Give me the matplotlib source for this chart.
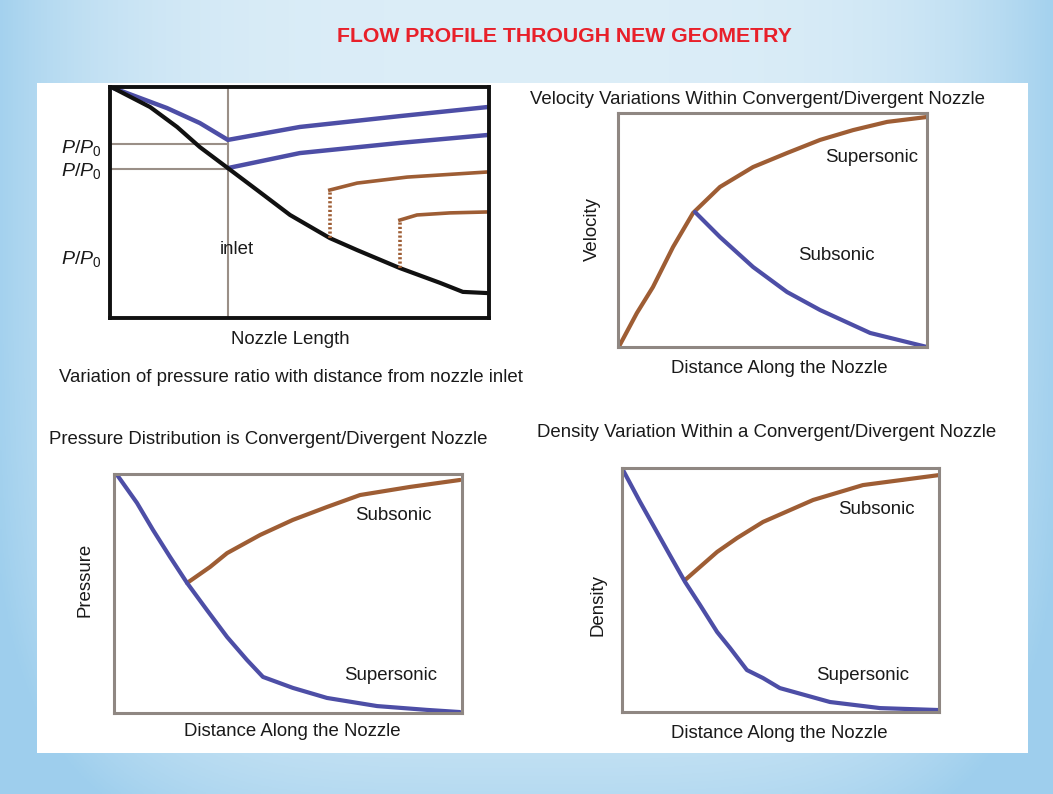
"""Flow profile through new geometry: four nozzle sketches on one slide."""
import matplotlib

matplotlib.use("Agg")
import matplotlib.pyplot as plt
import numpy as np
from matplotlib.patches import Rectangle

W, H = 1053, 794

# ---- data (axis units 0..1 inside each frame) ----
# top-left: pressure ratio vs nozzle length
tl_black_x = [0.008, 0.106, 0.177, 0.237, 0.311, 0.388, 0.475, 0.580, 0.652, 0.765, 0.871, 0.931, 0.995]
tl_black_y = [0.996, 0.913, 0.827, 0.740, 0.649, 0.554, 0.446, 0.346, 0.294, 0.216, 0.152, 0.113, 0.108]
tl_blue1_x = [0.008, 0.150, 0.237, 0.311, 0.501, 0.765, 0.995]
tl_blue1_y = [0.996, 0.909, 0.844, 0.771, 0.827, 0.874, 0.913]
tl_blue2_x = [0.311, 0.501, 0.765, 0.995]
tl_blue2_y = [0.649, 0.714, 0.758, 0.792]
tl_shock1_x = [0.580, 0.580]
tl_shock1_y = [0.346, 0.554]
tl_brown1_x = [0.580, 0.652, 0.784, 0.995]
tl_brown1_y = [0.554, 0.584, 0.610, 0.632]
tl_shock2_x = [0.765, 0.765]
tl_shock2_y = [0.216, 0.424]
tl_brown2_x = [0.765, 0.810, 0.897, 0.995]
tl_brown2_y = [0.424, 0.446, 0.455, 0.459]
tl_ref_levels = [0.753, 0.645]
tl_inlet_x = 0.311

# top-right: velocity
tr_brown_x = [0.006, 0.061, 0.113, 0.178, 0.243, 0.330, 0.437, 0.547, 0.654, 0.761, 0.871, 1.0]
tr_brown_y = [0.009, 0.145, 0.256, 0.427, 0.573, 0.684, 0.769, 0.829, 0.885, 0.927, 0.962, 0.983]
tr_blue_x = [0.249, 0.330, 0.437, 0.547, 0.654, 0.816, 1.0]
tr_blue_y = [0.577, 0.470, 0.342, 0.235, 0.158, 0.060, 0.0]

# bottom-left: pressure
bl_blue_x = [0.009, 0.066, 0.112, 0.161, 0.210, 0.267, 0.325, 0.382, 0.428, 0.514, 0.612, 0.756, 0.899, 0.994]
bl_blue_y = [0.996, 0.879, 0.766, 0.653, 0.544, 0.431, 0.318, 0.222, 0.151, 0.105, 0.063, 0.029, 0.013, 0.004]
bl_brown_x = [0.210, 0.276, 0.325, 0.420, 0.514, 0.612, 0.707, 0.851, 0.994]
bl_brown_y = [0.544, 0.611, 0.669, 0.745, 0.808, 0.862, 0.912, 0.946, 0.975]

# bottom-right: density
br_blue_x = [0.003, 0.057, 0.098, 0.151, 0.199, 0.246, 0.300, 0.341, 0.394, 0.445, 0.498, 0.656, 0.814, 1.0]
br_blue_y = [0.992, 0.861, 0.766, 0.643, 0.533, 0.439, 0.328, 0.262, 0.172, 0.139, 0.098, 0.041, 0.016, 0.008]
br_brown_x = [0.199, 0.300, 0.363, 0.445, 0.603, 0.688, 0.760, 1.0]
br_brown_y = [0.541, 0.656, 0.713, 0.779, 0.869, 0.902, 0.930, 0.971]

BLUE = "#4d4ea6"
BROWN = "#9e5d34"
FRAME = "#8f8782"
TXT = "#1a1a1a"
FONT = "Liberation Sans"
FS = 13.4

plt.rcParams["font.family"] = [FONT, "DejaVu Sans"]
plt.rcParams["mathtext.fontset"] = "custom"
plt.rcParams["mathtext.rm"] = FONT
plt.rcParams["mathtext.it"] = FONT + ":italic"


def fx(x):
    return x / W


def fy(y):
    return 1 - y / H


def panel(fig, x0, y0, x1, y1, color, lw):
    ax = fig.add_axes([fx(x0), fy(y1), (x1 - x0) / W, (y1 - y0) / H])
    ax.set_xlim(0, 1)
    ax.set_ylim(0, 1)
    ax.set_xticks([])
    ax.set_yticks([])
    ax.set_facecolor("white")
    for s in ax.spines.values():
        s.set_color(color)
        s.set_linewidth(lw)
    return ax


def label(fig, x, y, s, size=FS, **kw):
    # small downward nudge: va=center includes descenders
    fig.text(fx(x), fy(y + 2), s, ha="center", va="center", fontsize=size, color=TXT, **kw)


fig = plt.figure(figsize=(W / 100, H / 100), dpi=100)

# slide background: pale blue with darker edges
bg = fig.add_axes([0, 0, 1, 1])
gx = np.linspace(-1, 1, 400)
gy = np.linspace(0, 1, 300)
X, Y = np.meshgrid(gx, gy)
t = np.clip(np.abs(X) ** 4 * 0.9 + Y ** 6 * 0.6, 0, 1)
c0 = np.array([0.86, 0.93, 0.97])
c1 = np.array([0.62, 0.81, 0.93])
img = c0[None, None, :] * (1 - t[..., None]) + c1[None, None, :] * t[..., None]
bg.imshow(img, extent=[0, 1, 0, 1], aspect="auto", origin="upper")
bg.add_patch(Rectangle((fx(37), fy(753)), (1028 - 37) / W, (753 - 83) / H,
                       facecolor="white", edgecolor="none", transform=bg.transAxes))
bg.set_xlim(0, 1)
bg.set_ylim(0, 1)
bg.axis("off")

fig.text(fx(564), fy(36), "FLOW PROFILE THROUGH NEW GEOMETRY", ha="center", va="center",
         fontsize=15.3, fontweight="bold", color="#e8202a")

# ---- top-left ----
ax = panel(fig, 110, 87, 489, 318, "#111111", 2.8)
for lv in tl_ref_levels:
    ax.plot([0, tl_inlet_x], [lv, lv], color="#9a8f87", lw=1.5)
ax.plot([tl_inlet_x, tl_inlet_x], [0, 1], color="#9a8f87", lw=1.5)
ax.plot(tl_blue1_x, tl_blue1_y, color=BLUE, lw=3.2, solid_capstyle="round", solid_joinstyle="round")
ax.plot(tl_blue2_x, tl_blue2_y, color=BLUE, lw=3.2, solid_capstyle="round", solid_joinstyle="round")
ax.plot(tl_black_x, tl_black_y, color="#111111", lw=3.0, solid_capstyle="round", solid_joinstyle="round")
ax.plot(tl_shock1_x, tl_shock1_y, color=BROWN, lw=2.6, ls=(0, (0.6, 0.6)))
ax.plot(tl_shock2_x, tl_shock2_y, color=BROWN, lw=2.6, ls=(0, (0.6, 0.6)))
ax.plot(tl_brown1_x, tl_brown1_y, color=BROWN, lw=2.6, solid_joinstyle="round")
ax.plot(tl_brown2_x, tl_brown2_y, color=BROWN, lw=2.6, solid_joinstyle="round")
label(fig, 237, 247, "inlet")
for yy in (147, 170, 258):
    fig.text(fx(101), fy(yy + 1), r"$P/P_0$", ha="right", va="center", fontsize=14, color=TXT)
label(fig, 290, 338, "Nozzle Length")
label(fig, 291, 376, "Variation of pressure ratio with distance from nozzle inlet")

# ---- top-right ----
ax = panel(fig, 618, 113, 927, 347, FRAME, 2.2)
ax.plot(tr_brown_x, tr_brown_y, color=BROWN, lw=3.0, solid_capstyle="round", solid_joinstyle="round")
ax.plot(tr_blue_x, tr_blue_y, color=BLUE, lw=3.0, solid_capstyle="round", solid_joinstyle="round")
label(fig, 757, 98, "Velocity Variations Within Convergent/Divergent Nozzle")
label(fig, 872, 156, "Supersonic")
label(fig, 836, 254, "Subsonic")
label(fig, 592, 227, "Velocity", rotation=90)
label(fig, 779, 366, "Distance Along the Nozzle")

# ---- bottom-left ----
ax = panel(fig, 114, 474, 462, 713, FRAME, 2.2)
ax.plot(bl_brown_x, bl_brown_y, color=BROWN, lw=3.0, solid_capstyle="round", solid_joinstyle="round")
ax.plot(bl_blue_x, bl_blue_y, color=BLUE, lw=3.0, solid_capstyle="round", solid_joinstyle="round")
label(fig, 268, 438, "Pressure Distribution is Convergent/Divergent Nozzle")
label(fig, 393, 514, "Subsonic")
label(fig, 391, 673, "Supersonic")
label(fig, 85, 578, "Pressure", rotation=90)
label(fig, 292, 730, "Distance Along the Nozzle")

# ---- bottom-right ----
ax = panel(fig, 622, 468, 939, 712, FRAME, 2.2)
ax.plot(br_brown_x, br_brown_y, color=BROWN, lw=3.0, solid_capstyle="round", solid_joinstyle="round")
ax.plot(br_blue_x, br_blue_y, color=BLUE, lw=3.0, solid_capstyle="round", solid_joinstyle="round")
label(fig, 767, 430, "Density Variation Within a Convergent/Divergent Nozzle")
label(fig, 876, 508, "Subsonic")
label(fig, 863, 674, "Supersonic")
label(fig, 598, 603, "Density", rotation=90)
label(fig, 779, 732, "Distance Along the Nozzle")

fig.savefig("out.png", dpi=100)
